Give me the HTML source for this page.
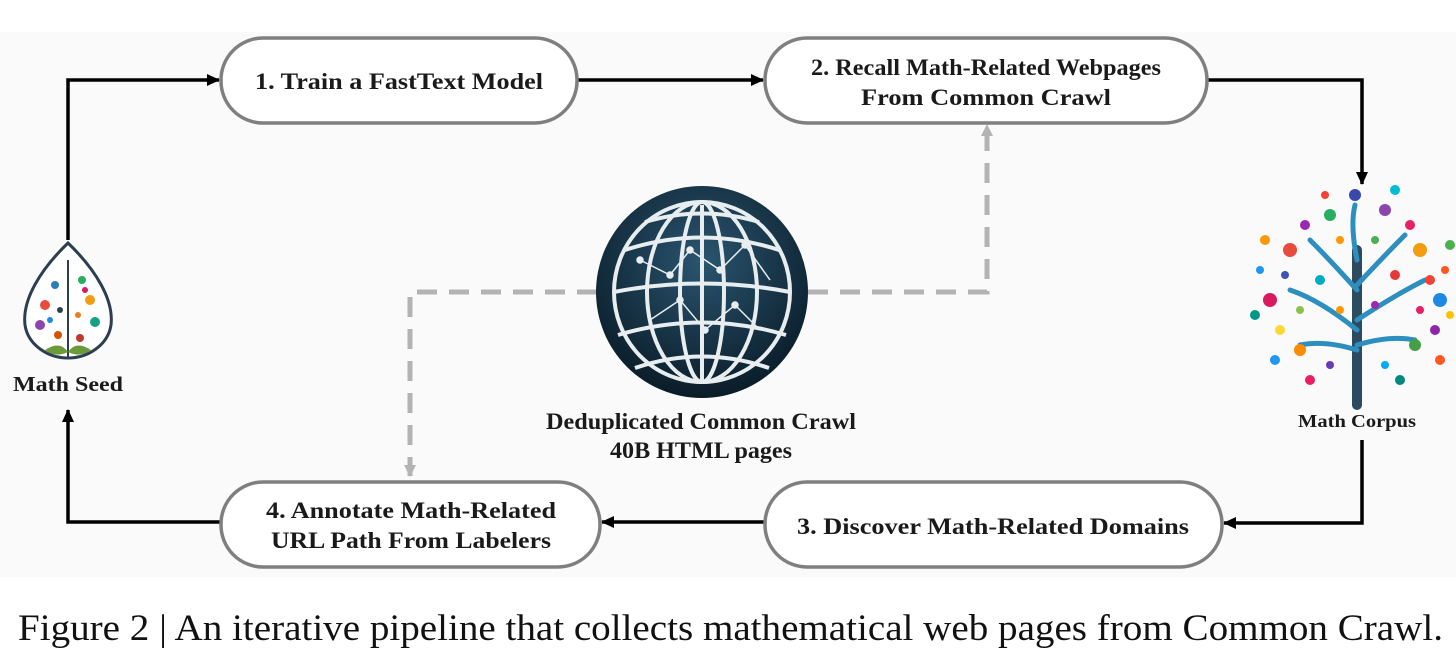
<!DOCTYPE html>
<html><head><meta charset="utf-8"><style>
html,body{margin:0;padding:0;background:#fff;}
svg{display:block;}
</style></head><body>
<svg width="1456" height="657" viewBox="0 0 1456 657" xmlns="http://www.w3.org/2000/svg">
<defs>
<marker id="ab" markerWidth="13" markerHeight="12" refX="12" refY="6" orient="auto" markerUnits="userSpaceOnUse"><path d="M0,0 L13,6 L0,12 z" fill="#000"/></marker>
<marker id="ag" markerWidth="12" markerHeight="12" refX="11" refY="6" orient="auto" markerUnits="userSpaceOnUse"><path d="M0,0 L12,6 L0,12 z" fill="#b3b3b3"/></marker>
<radialGradient id="gl" cx="50%" cy="35%" r="65%"><stop offset="0" stop-color="#2a5570"/><stop offset="1" stop-color="#0a1c28"/></radialGradient>
</defs>
<rect x="0" y="32" width="1456" height="545" fill="#fafafa"/>

<g stroke="#b3b3b3" stroke-width="5" fill="none" stroke-dasharray="20,12">
<path d="M597,292 H410 V476" marker-end="url(#ag)"/>
<path d="M808,292 H987 V125" marker-end="url(#ag)"/>
</g>

<g stroke="#000" stroke-width="3.5" fill="none">
<path d="M68,240 V80 H219" marker-end="url(#ab)"/>
<path d="M577,80 H763" marker-end="url(#ab)"/>
<path d="M1207,80 H1362 V184" marker-end="url(#ab)"/>
<path d="M1362,440 V523 H1224" marker-end="url(#ab)"/>
<path d="M765,522 H602" marker-end="url(#ab)"/>
<path d="M221,522 H68 V410" marker-end="url(#ab)"/>
</g>

<g fill="#fff" stroke="#7f7f7f" stroke-width="3.5">
<rect x="221" y="38" width="356" height="85" rx="42"/>
<rect x="765" y="38" width="442" height="85" rx="42"/>
<rect x="765" y="482" width="457" height="85" rx="42"/>
<rect x="221" y="482" width="379" height="85" rx="42"/>
</g>
<g font-family="'Liberation Serif',serif" font-weight="bold" font-size="23" fill="#1a1a1a" text-anchor="middle">
<text x="399" y="89" textLength="288" lengthAdjust="spacingAndGlyphs">1. Train a FastText Model</text>
<text x="986" y="75" textLength="350" lengthAdjust="spacingAndGlyphs">2. Recall Math-Related Webpages</text>
<text x="986" y="105" textLength="250" lengthAdjust="spacingAndGlyphs">From Common Crawl</text>
<text x="993" y="534" textLength="392" lengthAdjust="spacingAndGlyphs">3. Discover Math-Related Domains</text>
<text x="411" y="518" textLength="290" lengthAdjust="spacingAndGlyphs">4. Annotate Math-Related</text>
<text x="411" y="548" textLength="280" lengthAdjust="spacingAndGlyphs">URL Path From Labelers</text>
<text x="701" y="429" textLength="310" lengthAdjust="spacingAndGlyphs">Deduplicated Common Crawl</text>
<text x="701" y="458" textLength="182" lengthAdjust="spacingAndGlyphs">40B HTML pages</text>
<text x="68" y="391" font-size="21" textLength="110" lengthAdjust="spacingAndGlyphs">Math Seed</text>
<text x="1357" y="427" font-size="18" textLength="118" lengthAdjust="spacingAndGlyphs">Math Corpus</text>
</g>

<circle cx="702" cy="292" r="106" fill="url(#gl)"/>
<g stroke="#e8edf0" stroke-width="4" fill="none">
<ellipse cx="702" cy="292" rx="88" ry="90"/>
<ellipse cx="702" cy="292" rx="55" ry="90"/>
<ellipse cx="702" cy="292" rx="22" ry="90"/>
<line x1="702" y1="205" x2="702" y2="380"/>
<path d="M625,250 Q702,225 779,250"/>
<path d="M614,292 Q702,275 790,292"/>
<path d="M618,335 Q702,310 786,335"/>
<path d="M635,368 Q702,345 769,368"/>
<path d="M645,222 Q702,205 759,222"/>
</g>
<g stroke="#e8edf0" stroke-width="1.5" fill="#e8edf0">
<path d="M640,260 L670,275 L690,250 L720,270 L745,245 L770,280 M650,320 L680,300 L705,330 L735,305 L760,330" fill="none"/>
<circle cx="640" cy="260" r="3"/><circle cx="670" cy="275" r="3"/><circle cx="690" cy="250" r="3"/><circle cx="720" cy="270" r="3"/><circle cx="745" cy="245" r="3"/><circle cx="680" cy="300" r="3"/><circle cx="705" cy="330" r="3"/><circle cx="735" cy="305" r="3"/>
</g>

<path d="M68,243 C40,270 22,300 25,325 C28,345 48,358 68,358 C88,358 108,345 111,325 C114,300 96,270 68,243 z" fill="#fff" stroke="#2c3e50" stroke-width="3"/>
<line x1="68" y1="260" x2="68" y2="358" stroke="#2c3e50" stroke-width="2"/>
<g>
<circle cx="45" cy="305" r="5" fill="#e74c3c"/><circle cx="90" cy="300" r="5" fill="#f39c12"/>
<circle cx="55" cy="285" r="4" fill="#2980b9"/><circle cx="82" cy="280" r="4" fill="#27ae60"/>
<circle cx="40" cy="325" r="5" fill="#8e44ad"/><circle cx="95" cy="322" r="5" fill="#16a085"/>
<circle cx="58" cy="335" r="4" fill="#d35400"/><circle cx="80" cy="338" r="4" fill="#c0392b"/>
<circle cx="60" cy="310" r="3" fill="#2c3e50"/><circle cx="78" cy="315" r="3" fill="#e67e22"/>
<circle cx="50" cy="320" r="3" fill="#1e88e5"/><circle cx="85" cy="290" r="3" fill="#d81b60"/>
</g>
<path d="M45,350 Q60,340 68,352 Q56,358 45,350z M91,350 Q76,340 68,352 Q80,358 91,350z" fill="#6a9a3a"/>

<g stroke="#2c4a60" fill="none" stroke-linecap="round">
<path d="M1357,405 V250" stroke-width="10"/>
<path d="M1357,330 Q1320,300 1290,290 M1357,320 Q1395,295 1425,280 M1357,290 Q1330,260 1310,240 M1357,285 Q1385,255 1405,235 M1357,260 Q1350,225 1355,205 M1357,350 Q1325,340 1300,345 M1357,345 Q1390,335 1415,340" stroke-width="5" stroke="#2d8fbf"/>
</g>
<g>
<circle cx="1290" cy="250" r="7" fill="#e74c3c"/><circle cx="1420" cy="250" r="7" fill="#f39c12"/>
<circle cx="1330" cy="215" r="6" fill="#27ae60"/><circle cx="1385" cy="210" r="6" fill="#8e44ad"/>
<circle cx="1270" cy="300" r="7" fill="#d81b60"/><circle cx="1440" cy="300" r="7" fill="#1e88e5"/>
<circle cx="1300" cy="350" r="6" fill="#fb8c00"/><circle cx="1415" cy="345" r="6" fill="#43a047"/>
<circle cx="1320" cy="280" r="5" fill="#00acc1"/><circle cx="1395" cy="275" r="5" fill="#e53935"/>
<circle cx="1355" cy="195" r="6" fill="#3949ab"/><circle cx="1280" cy="330" r="5" fill="#fdd835"/>
<circle cx="1435" cy="330" r="5" fill="#8e24aa"/><circle cx="1310" cy="380" r="5" fill="#e91e63"/>
<circle cx="1400" cy="380" r="5" fill="#00897b"/><circle cx="1260" cy="270" r="4" fill="#2196f3"/>
<circle cx="1445" cy="270" r="4" fill="#ff5722"/><circle cx="1340" cy="240" r="4" fill="#ff9800"/>
<circle cx="1375" cy="240" r="4" fill="#4caf50"/>
<circle cx="1305" cy="225" r="5" fill="#9c27b0"/><circle cx="1410" cy="225" r="5" fill="#e91e63"/>
<circle cx="1265" cy="240" r="5" fill="#ff9800"/><circle cx="1450" cy="245" r="5" fill="#4caf50"/>
<circle cx="1285" cy="275" r="4" fill="#3f51b5"/><circle cx="1430" cy="280" r="5" fill="#f44336"/>
<circle cx="1255" cy="315" r="5" fill="#009688"/><circle cx="1450" cy="315" r="4" fill="#ffc107"/>
<circle cx="1275" cy="360" r="5" fill="#2196f3"/><circle cx="1440" cy="360" r="5" fill="#ff5722"/>
<circle cx="1330" cy="365" r="4" fill="#673ab7"/><circle cx="1385" cy="365" r="4" fill="#03a9f4"/>
<circle cx="1325" cy="195" r="4" fill="#f44336"/><circle cx="1395" cy="190" r="5" fill="#00bcd4"/>
<circle cx="1300" cy="310" r="4" fill="#8bc34a"/><circle cx="1420" cy="310" r="4" fill="#e91e63"/>
<circle cx="1340" cy="310" r="4" fill="#ff9800"/><circle cx="1375" cy="305" r="4" fill="#9c27b0"/>
</g>

<text x="18" y="640" font-family="'Liberation Serif',serif" font-size="37" fill="#111" textLength="1425" lengthAdjust="spacingAndGlyphs">Figure 2 | An iterative pipeline that collects mathematical web pages from Common Crawl.</text>
</svg>
</body></html>
